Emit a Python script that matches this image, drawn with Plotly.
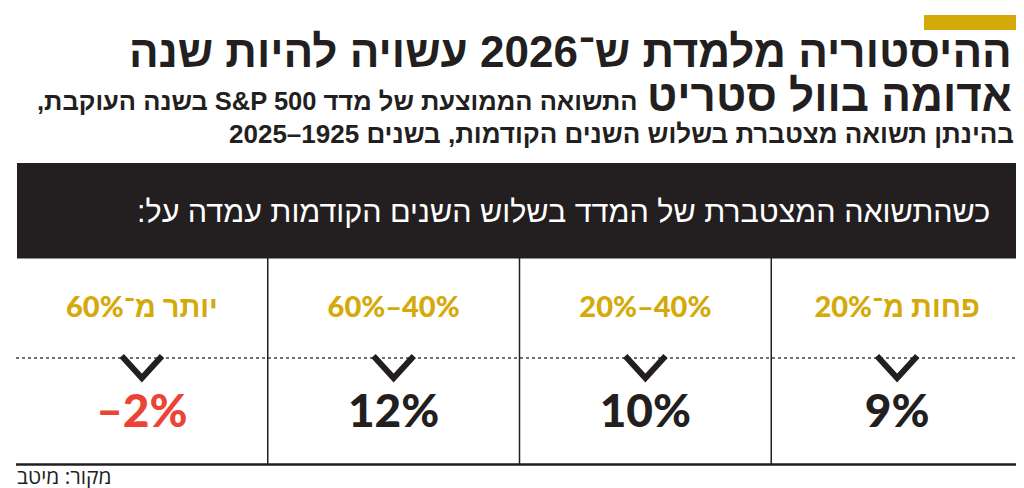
import re
import plotly.graph_objects as go

# ---- data (logical order: right-to-left columns) ----
ranges = ["פחות מ־20%", "20%–40%", "60%–40%", "יותר מ־60%"]
returns = [9, 10, 12, -2]

title_line1 = "ההיסטוריה מלמדת ש־2026 עשויה להיות שנה"
title_line2 = "אדומה בוול סטריט"
subtitle_a = "התשואה הממוצעת של מדד S&P 500 בשנה העוקבת,"
subtitle_b = "בהינתן תשואה מצטברת בשלוש השנים הקודמות, בשנים 1925–2025"
band_text = "כשהתשואה המצטברת של המדד בשלוש השנים הקודמות עמדה על:"
source_text = "מקור: מיטב"

W, H = 1024, 488
GOLD = "#d4a90a"
DARK = "#231f20"
RED = "#ec4434"
HEBREW = re.compile("[\u0590-\u05ff]")


def rtl(s):
    # right-to-left embedding for texts that contain Hebrew
    return "\u202b" + s + "\u202c" if HEBREW.search(s) else s


def px(x):
    return x / W


def py(y):
    return 1 - y / H


idx = list(range(len(ranges)))
value_text = [("–" if v < 0 else "") + f"{abs(v)}%" for v in returns]
value_colors = [RED if v < 0 else DARK for v in returns]

# chevrons under each header
chev_x, chev_y = [], []
half = 0.08
for i in idx:
    chev_x += [i - half, i, i + half, None]
    chev_y += [348, 370, 348, None]

fig = go.Figure()

fig.add_trace(go.Scatter(
    x=chev_x, y=chev_y, mode="lines",
    line=dict(color=DARK, width=6), hoverinfo="skip", showlegend=False,
))
fig.add_trace(go.Scatter(
    x=idx, y=[302] * len(idx), mode="text",
    text=[rtl(r) for r in ranges],
    textfont=dict(family="Lato, Liberation Sans, DejaVu Sans", size=29, color=GOLD, weight=900),
    textposition="middle center", hoverinfo="skip", showlegend=False,
))
fig.add_trace(go.Scatter(
    x=idx, y=[407] * len(idx), mode="text",
    text=value_text,
    textfont=dict(family="Lato, Liberation Sans", size=46, color=value_colors, weight=900),
    textposition="middle center", hoverinfo="skip", showlegend=False,
))

shapes = [
    dict(type="rect", xref="paper", yref="paper", x0=px(916), x1=px(1016), y0=py(7), y1=py(22),
         fillcolor=GOLD, line=dict(width=0)),
    dict(type="rect", xref="paper", yref="paper", x0=px(9), x1=px(1015), y0=py(155), y1=py(250.5),
         fillcolor=DARK, line=dict(width=0)),
    dict(type="line", xref="paper", yref="paper", x0=px(8), x1=px(1015), y0=py(350), y1=py(350),
         line=dict(color="#444", width=1.5, dash="dot"), layer="below"),
    dict(type="line", xref="paper", yref="paper", x0=px(8), x1=px(1015), y0=py(456.5), y1=py(456.5),
         line=dict(color=DARK, width=2.5)),
]
for b in [0.5, 1.5, 2.5]:
    shapes.append(dict(type="line", xref="x", yref="paper", x0=b, x1=b, y0=py(250), y1=py(456),
                       line=dict(color=DARK, width=1.5)))

HEB = "Liberation Sans, DejaVu Sans"
annotations = [
    dict(text=rtl(title_line1), x=px(1006), y=py(44), xref="paper", yref="paper",
         xanchor="right", yanchor="middle", showarrow=False,
         font=dict(family=HEB, size=44, color=DARK, weight="bold")),
    dict(text=rtl(title_line2), x=px(1006), y=py(87), xref="paper", yref="paper",
         xanchor="right", yanchor="middle", showarrow=False,
         font=dict(family=HEB, size=44, color=DARK, weight="bold")),
    dict(text=rtl(subtitle_a), x=px(632), y=py(93), xref="paper", yref="paper",
         xanchor="right", yanchor="middle", showarrow=False,
         font=dict(family=HEB, size=25.5, color=DARK, weight="bold")),
    dict(text=rtl(subtitle_b), x=px(1008), y=py(126), xref="paper", yref="paper",
         xanchor="right", yanchor="middle", showarrow=False,
         font=dict(family=HEB, size=26, color=DARK, weight="bold")),
    dict(text=rtl(band_text), x=px(984), y=py(203), xref="paper", yref="paper",
         xanchor="right", yanchor="middle", showarrow=False,
         font=dict(family=HEB, size=30.5, color="white")),
    dict(text=rtl(source_text), x=px(7), y=py(468), xref="paper", yref="paper",
         xanchor="left", yanchor="middle", showarrow=False,
         font=dict(family="Open Sans, Liberation Sans, DejaVu Sans", size=21, color=DARK)),
]

fig.update_layout(
    width=W, height=H,
    margin=dict(l=0, r=0, t=0, b=0),
    paper_bgcolor="white", plot_bgcolor="rgba(0,0,0,0)",
    xaxis=dict(domain=[px(8), px(1015)], range=[3.5, -0.5], visible=False, fixedrange=True),
    yaxis=dict(domain=[0, 1], range=[H, 0], visible=False, fixedrange=True),
    shapes=shapes, annotations=annotations,
    showlegend=False,
)

fig.write_html("out.html", config={"displayModeBar": False})
